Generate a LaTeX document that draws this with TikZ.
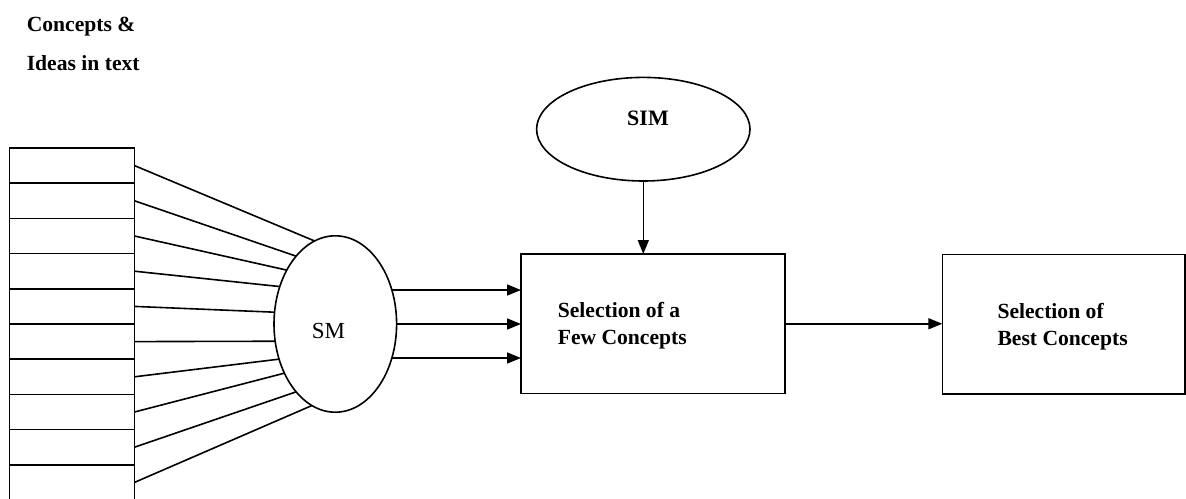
\documentclass[tikz,border=0pt]{standalone}
\usepackage{fontspec}
\setmainfont{Liberation Serif}
\usetikzlibrary{arrows.meta,shapes.geometric}
\begin{document}
\begin{tikzpicture}[x=1pt,y=-1pt,
  line width=1.6pt,
  cell/.style={draw, rectangle, minimum width=125.2pt, minimum height=35.2pt,
               inner sep=0pt, outer sep=0pt, anchor=north west},
  oval/.style={draw, ellipse, inner sep=0pt, outer sep=0pt},
  box/.style={draw, rectangle, inner sep=0pt, outer sep=0pt, anchor=north west},
  lbl/.style={anchor=base west, inner sep=0pt, font=\fontsize{21.6}{26}\selectfont\bfseries},
  arr/.style={-{Triangle[length=14pt,width=11pt]}},
]
\useasboundingbox (0,0) rectangle (1186,498);

% heading
\node[lbl] (h1) at (26,31) {Concepts \&};
\node[lbl] (h2) at (26,70) {Ideas in text};

% stack of concept cells
\foreach \i in {1,...,10}
  \node[cell] (r\i) at (9.3,{148+(\i-1)*35.2}) {};

% SM oval and the fan of lines into it
\node[oval, minimum width=122.6pt, minimum height=176.4pt] (sm) at (335.3,324) {};
\node[anchor=base, inner sep=0pt, font=\fontsize{23}{26}\selectfont] (smtext) at (328.5,338) {SM};
\foreach \i/\a in {1/104.9, 2/120.3, 3/132.9, 4/146.5, 5/169.4,
                   6/196.1, 7/212.1, 8/224.8, 9/240.7, 10/254.3}
  \draw (r\i.east) -- (sm.\a);

% selection boxes
\node[box, minimum width=264pt, minimum height=139.5pt] (b1) at (521,254) {};
\node[box, minimum width=242.5pt, minimum height=139.7pt] (b2) at (942.3,254.3) {};
\node[lbl] (b1a) at (557,317.3) {Selection of a};
\node[lbl] (b1b) at (557,344) {Few Concepts};
\node[lbl] (b2a) at (996.7,318.3) {Selection of};
\node[lbl] (b2b) at (996.7,345) {Best Concepts};

% SIM oval
\node[oval, minimum width=213.4pt, minimum height=103.6pt] (sim) at (643.3,129.2) {};
\node[anchor=base, inner sep=0pt, font=\fontsize{22}{26}\selectfont\bfseries] (simtext) at (648,125) {SIM};

% arrows
\foreach \a in {31.6, 0, -31.6}
  \draw[arr] (sm.\a) -- (sm.\a -| b1.west);
\draw[arr] (sim.south) -- (sim.south |- b1.north);
\draw[arr] (b1.east) -- (b1.east -| b2.west);
\end{tikzpicture}
\end{document}
